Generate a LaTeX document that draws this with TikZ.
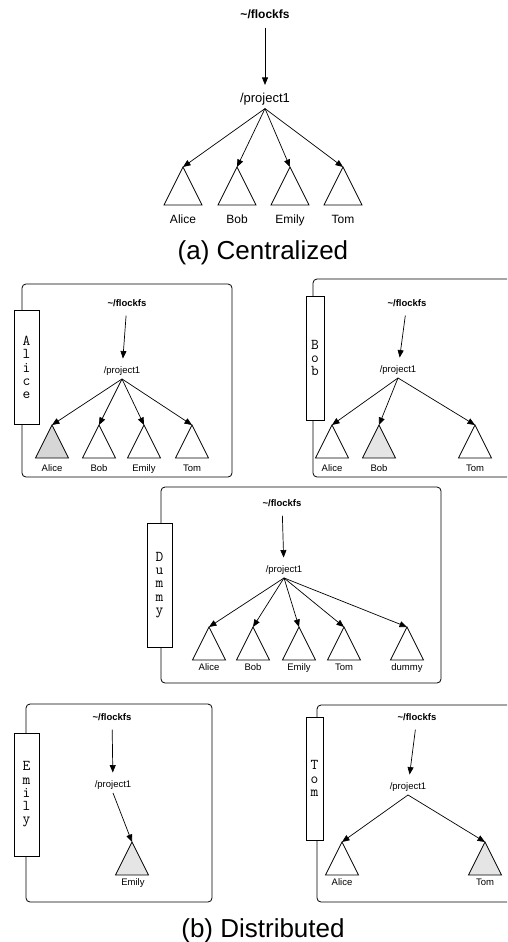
\documentclass[tikz,border=0pt]{standalone}
\usepackage{fontspec}
\setmainfont{Liberation Sans}
\usetikzlibrary{arrows.meta,shapes.geometric,positioning}
\tikzset{
  % text of the tree
  home/.style={font=\bfseries\fontsize{#1}{#1}\selectfont},
  proj/.style={font=\fontsize{#1}{#1}\selectfont},
  lbl/.style={font=\fontsize{#1}{#1}\selectfont, anchor=base, inner sep=0pt},
  caption/.style={font=\fontsize{26}{26}\selectfont, anchor=base, inner sep=0pt},
  % subtree triangle, hung by its apex
  tri/.style={draw, isosceles triangle, isosceles triangle stretches,
              shape border rotate=90, line width=0.8pt, inner sep=0pt, outer sep=0pt,
              minimum width=#1, minimum height=#1, anchor=apex},
  mine/.style={fill=black!16},
  cached/.style={fill=black!10},
  % one user's view: box with a name tab on its left side
  panel/.style={draw, rounded corners=4pt, line width=0.8pt, inner sep=0pt,
                outer sep=0pt, anchor=north west},
  tab/.style={draw, fill=white, line width=0.8pt, inner sep=0pt, align=center,
              font=\ttfamily\fontsize{15}{13.2}\selectfont},
  % links
  arr/.style={-{Triangle[length=7.5pt,width=6pt]}, line width=0.7pt},
  stem/.style={arr, shorten <=5.5pt, shorten >=4.5pt},
}

\begin{document}
\begin{tikzpicture}[x=1pt,y=-1pt]
\useasboundingbox (0,0) rectangle (507,942);
\clip (0,0) rectangle (507,942);

% =================== (a) CENTRALIZED ===================
\node[home=12] (aHome) at (265,14) {\textasciitilde/flockfs};
\node[proj=13] (aProj) at (265,99) {/project1};
\draw[stem] (aHome) -- (aProj);
\node[tri=38pt] (aAlice) at (183,167) {};
\node[tri=38pt] (aBob)   at (237,167) {};
\node[tri=38pt] (aEmily) at (290,167) {};
\node[tri=38pt] (aTom)   at (343,167) {};
\foreach \u in {Alice,Bob,Emily,Tom}
  \draw[arr] (aProj.south) -- (a\u.apex);
\node[lbl=12] (aAliceL) at (183,223) {Alice};
\node[lbl=12] (aBobL)   at (237,223) {Bob};
\node[lbl=12] (aEmilyL) at (290,223) {Emily};
\node[lbl=12] (aTomL)   at (343,223) {Tom};
\node[caption] (capA) at (263,259) {(a) Centralized};

% =================== (b) DISTRIBUTED ===================
% --- Alice
\node[panel, minimum width=210pt, minimum height=193pt] (pAlice) at (22,284) {};
\node[tab, minimum width=25pt, minimum height=114pt] (tAlice) at (26.5,367.5) {A\\l\\i\\c\\e};
\node[home=9.5] (alHome) at (127,303) {\textasciitilde/flockfs};
\node[proj=9.5] (alProj) at (122,371) {/project1};
\draw[stem] (alHome) -- (alProj);
\node[tri=33pt, mine] (alAlice) at (52,425) {};
\node[tri=33pt] (alBob)   at (99,425) {};
\node[tri=33pt] (alEmily) at (144,425) {};
\node[tri=33pt] (alTom)   at (192,425) {};
\foreach \u in {Alice,Bob,Emily,Tom}
  \draw[arr] (alProj.south) -- (al\u.apex);
\node[lbl=9.5] (alAliceL) at (52,471.5) {Alice};
\node[lbl=9.5] (alBobL)   at (99,471.5) {Bob};
\node[lbl=9.5] (alEmilyL) at (144,471.5) {Emily};
\node[lbl=9.5] (alTomL)   at (192,471.5) {Tom};

% --- Bob
\node[panel, minimum width=210pt, minimum height=198pt] (pBob) at (313,279) {};
\node[tab, minimum width=18pt, minimum height=124pt] (tBob) at (315,358) {B\\o\\b};
\node[home=9.5] (boHome) at (407,303) {\textasciitilde/flockfs};
\node[proj=9.5] (boProj) at (398,370) {/project1};
\draw[stem] (boHome) -- (boProj);
\node[tri=33pt] (boAlice) at (332,425) {};
\node[tri=33pt, cached] (boBob) at (379,425) {};
\node[tri=33pt] (boTom)   at (475,425) {};
\foreach \u in {Alice,Bob,Tom}
  \draw[arr] (boProj.south) -- (bo\u.apex);
\node[lbl=9.5] (boAliceL) at (332,471.5) {Alice};
\node[lbl=9.5] (boBobL)   at (379,471.5) {Bob};
\node[lbl=9.5] (boTomL)   at (475,471.5) {Tom};

% --- Dummy
\node[panel, minimum width=280pt, minimum height=196pt] (pDummy) at (161,487) {};
\node[tab, minimum width=25pt, minimum height=124pt] (tDummy) at (159.5,585) {D\\u\\m\\m\\y};
\node[home=9.5] (duHome) at (282,503) {\textasciitilde/flockfs};
\node[proj=9.5] (duProj) at (284,570) {/project1};
\draw[stem] (duHome) -- (duProj);
\node[tri=33pt] (duAlice) at (209,627) {};
\node[tri=33pt] (duBob)   at (253,627) {};
\node[tri=33pt] (duEmily) at (299,627) {};
\node[tri=33pt] (duTom)   at (344,627) {};
\node[tri=33pt] (duDummy) at (407,627) {};
\foreach \u in {Alice,Bob,Emily,Tom,Dummy}
  \draw[arr] (duProj.south) -- (du\u.apex);
\node[lbl=9.5] (duAliceL) at (209,670.5) {Alice};
\node[lbl=9.5] (duBobL)   at (253,670.5) {Bob};
\node[lbl=9.5] (duEmilyL) at (299,670.5) {Emily};
\node[lbl=9.5] (duTomL)   at (344,670.5) {Tom};
\node[lbl=9.5] (duDummyL) at (407,670.5) {dummy};

% --- Emily
\node[panel, minimum width=186pt, minimum height=198pt] (pEmily) at (26,704) {};
\node[tab, minimum width=25pt, minimum height=123pt] (tEmily) at (26.5,794.5) {E\\m\\i\\l\\y};
\node[home=9.5] (emHome) at (112,717) {\textasciitilde/flockfs};
\node[proj=9.5] (emProj) at (113,785) {/project1};
\draw[stem] (emHome) -- (emProj);
\node[tri=33pt, cached] (emEmily) at (132,842) {};
\draw[arr] (emProj.south) -- (emEmily.apex);
\node[lbl=9.5] (emEmilyL) at (133,885.5) {Emily};

% --- Tom
\node[panel, minimum width=206pt, minimum height=197pt] (pTom) at (317,705) {};
\node[tab, minimum width=17pt, minimum height=123pt] (tTom) at (314.5,778.5) {T\\o\\m};
\node[home=9.5] (toHome) at (417,717) {\textasciitilde/flockfs};
\node[proj=9.5] (toProj) at (408,787) {/project1};
\draw[stem] (toHome) -- (toProj);
\node[tri=33pt] (toAlice) at (342,842) {};
\node[tri=33pt, cached] (toTom) at (485,842) {};
\foreach \u in {Alice,Tom}
  \draw[arr] (toProj.south) -- (to\u.apex);
\node[lbl=9.5] (toAliceL) at (342,885.5) {Alice};
\node[lbl=9.5] (toTomL)   at (485,885.5) {Tom};

\node[caption] (capB) at (263,937) {(b) Distributed};

\end{tikzpicture}
\end{document}
